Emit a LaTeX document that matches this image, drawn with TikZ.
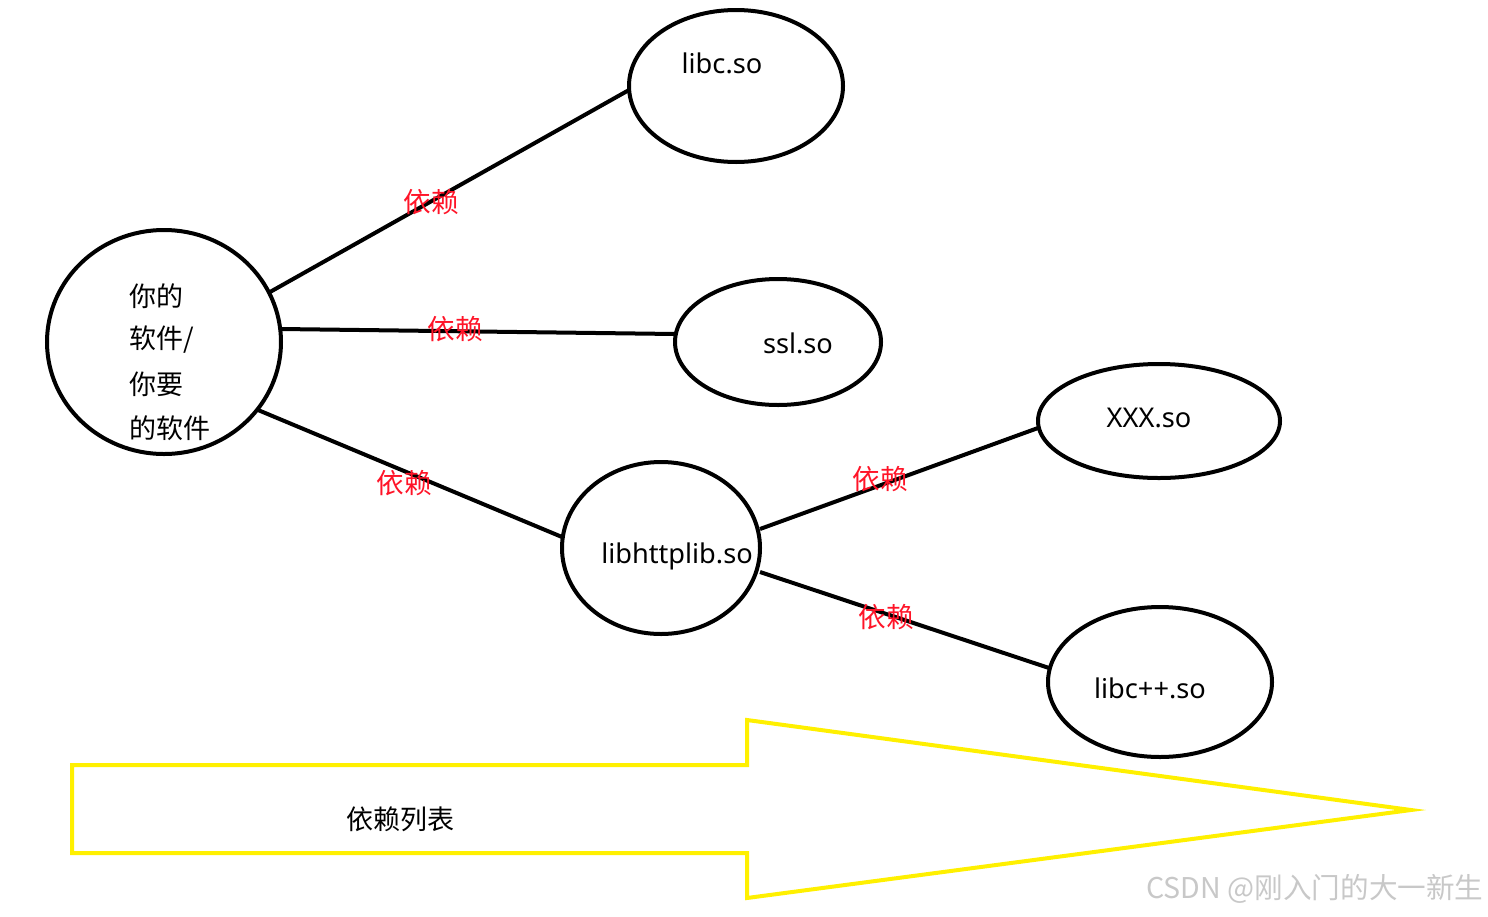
\documentclass[tikz,border=0pt]{standalone}
\usepackage{fontspec}
\setmainfont{Noto Sans}
\newfontfamily\cjk{Noto Sans CJK SC}
\begin{document}
\begin{tikzpicture}[x=0.5pt,y=-0.5pt,
  ell/.style={draw=black,line width=2pt},
  edge/.style={draw=black,line width=2pt},
  lbl/.style={text={rgb,255:red,255;green,20;blue,40},font=\cjk\fontsize{13.8}{15}\selectfont,inner sep=0pt},
  nm/.style={font=\fontsize{13.6}{15}\selectfont,inner sep=0pt},
  cj/.style={font=\cjk\fontsize{13.5}{15}\selectfont,inner sep=0pt,anchor=west}]
\useasboundingbox (0,0) rectangle (1488,916);
% ellipses
\draw[ell] (164,342) ellipse [x radius=117,y radius=112];
\coordinate (me) at (164,342);
\draw[ell] (736,86) ellipse [x radius=107,y radius=76];
\draw[ell] (778,342) ellipse [x radius=103,y radius=63];
\draw[ell] (1159,421) ellipse [x radius=121,y radius=57];
\draw[ell] (661,548) ellipse [x radius=99,y radius=86];
\draw[ell] (1160,682) ellipse [x radius=112,y radius=75];
% texts
\node[nm] (libc) at (722,63) {libc.so};
\node[nm] (ssl) at (798,343) {ssl.so};
\node[nm] (xxx) at (1149,418) {XXX.so};
\node[nm] (http) at (677,556) {libhttplib.so};
\node[nm] (libcpp) at (1150,688) {libc++.so};
\node[cj] (t1) at (129,296) {你的};
\node[cj] (t2) at (129,340) {软件/};
\node[cj] (t3) at (129,384) {你要};
\node[cj] (t4) at (129,428) {的软件};
% connector endpoints
\coordinate (a0) at (270,292); \coordinate (a1) at (629,90);
\coordinate (b0) at (281,329); \coordinate (b1) at (675,334);
\coordinate (c0) at (258,410); \coordinate (c1) at (562,537);
\coordinate (d0) at (760,529); \coordinate (d1) at (1038,428);
\coordinate (e0) at (760,572); \coordinate (e1) at (1049,668);
\draw[edge] (a0) -- (a1);
\draw[edge] (b0) -- (b1);
\draw[edge] (c0) -- (c1);
\draw[edge] (d0) -- (d1);
\draw[edge] (e0) -- (e1);
% labels
\node[lbl] (l1) at (431,202) {依赖};
\node[lbl] (l2) at (455,329) {依赖};
\node[lbl] (l3) at (404,483) {依赖};
\node[lbl] (l4) at (880,479) {依赖};
\node[lbl] (l5) at (886,617) {依赖};
% big yellow arrow
\draw[draw={rgb,255:red,255;green,240;blue,0},line width=2pt,line join=miter]
  (72,765) -- (747,765) -- (747,720) -- (1411,810) -- (747,898) -- (747,853) -- (72,853) -- cycle;
\node[font=\cjk\fontsize{13.5}{15}\selectfont,inner sep=0pt] (dl) at (400,819) {依赖列表};
% watermark
\node[text={rgb,255:red,200;green,200;blue,200},font=\cjk\fontsize{14.3}{16}\selectfont,inner sep=0pt] (wm) at (1315,889) {CSDN @刚入门的大一新生};
\end{tikzpicture}
\end{document}
